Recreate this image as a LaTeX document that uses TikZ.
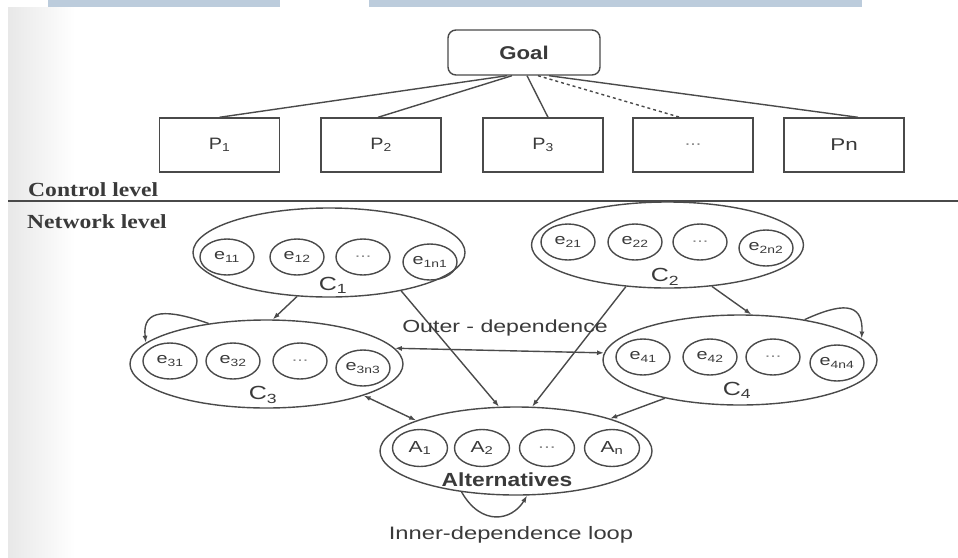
\documentclass[tikz,border=0pt]{standalone}
\usepackage{fontspec}
\usetikzlibrary{shapes.geometric,arrows.meta,calc}
\newfontfamily\labfont[FakeStretch=1.2]{Liberation Sans}
\newfontfamily\widefont[FakeStretch=1.32]{Liberation Sans}
\newfontfamily\levfont[FakeStretch=1.18]{Liberation Serif}
\definecolor{ink}{HTML}{4A4A4A}
\definecolor{txt}{HTML}{3A3A3A}
\definecolor{tab}{HTML}{BCCCDC}
\begin{document}
\begin{tikzpicture}[x=1pt,y=-1pt,
  every node/.style={text=txt},
  line/.style={draw=ink,line width=1.4pt},
  pbox/.style={line,rectangle,minimum width=120pt,minimum height=54pt,inner sep=0pt,
    font=\labfont\fontsize{16.5}{18}\selectfont},
  cluster/.style={line,ellipse,minimum width=272pt,minimum height=88pt,inner sep=0pt},
  elem/.style={line,ellipse,minimum width=54pt,minimum height=36pt,inner sep=0pt,
    font=\widefont\fontsize{15}{17}\selectfont},
  altelem/.style={elem,minimum width=55pt,minimum height=37pt,
    font=\widefont\fontsize{16}{18}\selectfont},
  dots/.style={text=black!45},
  clabel/.style={inner sep=0pt,font=\widefont\fontsize{19}{21}\selectfont},
  lvl/.style={anchor=west,inner sep=0pt,font=\levfont\bfseries\fontsize{20}{22}\selectfont},
  arr/.style={line,-{Latex[length=7pt,width=5pt]}},
  darr/.style={line,{Latex[length=7pt,width=5pt]}-{Latex[length=7pt,width=5pt]}},
]
\useasboundingbox (0,0) rectangle (958,557);
\fill[white] (0,0) rectangle (958,557);
% scan shadow along the page edge and tabs along the top
\shade[left color=black!9,right color=white] (8,7) rectangle (75,557);
\fill[tab] (48,0) rectangle (280,7);
\fill[tab] (369,0) rectangle (862,7);

% ---------- control level ----------
\node[line,rounded corners=8pt,minimum width=152pt,minimum height=45pt,inner sep=0pt,
  font=\labfont\bfseries\fontsize{18.5}{20}\selectfont] (goal) at (524,52.5) {Goal};
\node[pbox] (p1) at (219.5,145) {P\textsubscript{1}};
\node[pbox] (p2) at (381,145) {P\textsubscript{2}};
\node[pbox] (p3) at (543,145) {P\textsubscript{3}};
\node[pbox,dots] (pd) at (693,145) {...};
\node[pbox,font=\widefont\fontsize{17}{19}\selectfont] (pn) at (844,145) {Pn};

\draw[line] ([xshift=-17pt]goal.south) -- (p1.north);
\draw[line] ([xshift=-12pt]goal.south) -- ([xshift=-3pt]p2.north);
\draw[line] ([xshift=3pt]goal.south) -- ([xshift=5pt]p3.north);
\draw[line,dashed] ([xshift=14pt]goal.south) -- ([xshift=-13pt]pd.north);
\draw[line] ([xshift=25pt]goal.south) -- ([xshift=14pt]pn.north);

\node[lvl] (ctl) at (28,190) {Control level};
\draw[line] (8,201) -- (958,201);
\node[lvl] (net) at (27,222) {Network level};

% ---------- network level: clusters ----------
\node[cluster,minimum height=89pt] (c1) at (329,252.5) {};
\node[cluster,minimum height=86pt] (c2) at (667.5,245) {};
\node[cluster,minimum width=273pt] (c3) at (266.5,364) {};
\node[cluster,minimum width=274pt,minimum height=90pt] (c4) at (740,360) {};
\node[cluster] (alt) at (516,451) {};

\node[elem] (e11) at (227,257) {e\textsubscript{11}};
\node[elem] (e12) at (297,257) {e\textsubscript{12}};
\node[elem,dots] (e1d) at (363,257) {...};
\node[elem] (e1n) at (430,262) {e\textsubscript{1n1}};
\node[clabel] (lc1) at (333,285) {C\textsubscript{1}};

\node[elem] (e21) at (568,242) {e\textsubscript{21}};
\node[elem] (e22) at (635,242) {e\textsubscript{22}};
\node[elem,dots] (e2d) at (700,242) {...};
\node[elem] (e2n) at (766,248) {e\textsubscript{2n2}};
\node[clabel] (lc2) at (665,277) {C\textsubscript{2}};

\node[elem] (e31) at (170,361) {e\textsubscript{31}};
\node[elem] (e32) at (233,361) {e\textsubscript{32}};
\node[elem,dots] (e3d) at (300,361) {...};
\node[elem] (e3n) at (363,368) {e\textsubscript{3n3}};
\node[clabel] (lc3) at (263,395) {C\textsubscript{3}};

\node[elem] (e41) at (643,357) {e\textsubscript{41}};
\node[elem] (e42) at (710,357) {e\textsubscript{42}};
\node[elem,dots] (e4d) at (773,357) {...};
\node[elem] (e4n) at (837,363) {e\textsubscript{4n4}};
\node[clabel] (lc4) at (737,390) {C\textsubscript{4}};

\node[altelem] (a1) at (420,448) {A\textsubscript{1}};
\node[altelem] (a2) at (482,448) {A\textsubscript{2}};
\node[altelem,dots] (ad) at (547,448) {...};
\node[altelem] (an) at (612,448) {A\textsubscript{n}};
\node[inner sep=0pt,font=\labfont\bfseries\fontsize{19}{21}\selectfont] (lalt) at (507,480) {Alternatives};

% ---------- dependences ----------
\draw[arr] (c1.-126) -- (c3.82);
\draw[arr] (c1.-28) -- (alt.111);
\draw[arr] (c2.-135) -- (alt.70);
\draw[arr] (c2.-43) -- (c4.76);
\draw[darr] (c3.7) -- (c4.177);
\draw[darr] (c3.-18) -- (alt.163);
\draw[arr] (c4.-153) -- (alt.19);

\node[inner sep=0pt,font=\widefont\fontsize{17.5}{19}\selectfont] (outer) at (505,328) {Outer - dependence};

% feedback loops
\draw[arr] (c3.145) .. controls +(-40,-14) and +(-4,-35) .. (c3.170);
\draw[arr] (c4.32) .. controls +(35,-16) and +(2,-38) .. (c4.10);
\draw[arr] (alt.-143) .. controls +(20,35) and +(-15,25) .. (alt.-76);
\node[inner sep=0pt,font=\widefont\fontsize{18}{20}\selectfont] (inner) at (511,535) {Inner-dependence loop};
\end{tikzpicture}
\end{document}
